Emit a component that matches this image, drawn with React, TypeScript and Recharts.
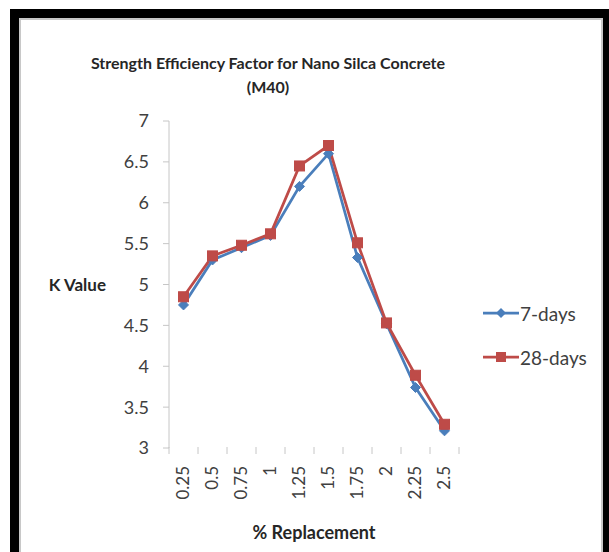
import { LineChart, Line, XAxis, YAxis } from 'recharts';

const categories = ['0.25', '0.5', '0.75', '1', '1.25', '1.5', '1.75', '2', '2.25', '2.5'];
const days7 = [4.75, 5.3, 5.45, 5.6, 6.2, 6.6, 5.33, 4.52, 3.74, 3.21];
const days28 = [4.85, 5.35, 5.48, 5.62, 6.45, 6.7, 5.51, 4.53, 3.89, 3.29];
const yTicks = [3, 3.5, 4, 4.5, 5, 5.5, 6, 6.5, 7];

const data = categories.map((c, i) => ({ name: c, d7: days7[i], d28: days28[i] }));

const BLUE = '#4a7ebb';
const RED = '#be4b48';
const FONT = 'Lato, "Open Sans", sans-serif';
const TEXT = '#404040';

const W = 580;
const H = 532;
const MARGIN = { top: 101, right: 142, bottom: 44, left: 88 };
const PLOT_BOTTOM = H - MARGIN.bottom - 60;
const BAND = (W - MARGIN.left - MARGIN.right - 60) / categories.length;

const Diamond = ({ cx, cy }: any) => {
  if (cx == null || cy == null) return null;
  const r = 5;
  return <path d={`M${cx},${cy - r}L${cx + r},${cy}L${cx},${cy + r}L${cx - r},${cy}Z`} fill={BLUE} stroke={BLUE} />;
};

const Square = ({ cx, cy }: any) => {
  if (cx == null || cy == null) return null;
  const s = 5;
  return <rect x={cx - s} y={cy - s} width={s * 2} height={s * 2} fill={RED} stroke={RED} />;
};

const XTick = ({ x, payload, index }: any) => {
  const ty = PLOT_BOTTOM + 18;
  return (
    <g>
      <line x1={x - BAND / 2} x2={x - BAND / 2} y1={PLOT_BOTTOM - 1} y2={PLOT_BOTTOM + 6} stroke="#c6c6c6" />
      {index === categories.length - 1 && (
        <line x1={x + BAND / 2} x2={x + BAND / 2} y1={PLOT_BOTTOM - 1} y2={PLOT_BOTTOM + 6} stroke="#c6c6c6" />
      )}
      <text
        x={x}
        y={ty}
        transform={`rotate(-90, ${x}, ${ty})`}
        textAnchor="end"
        dy="0.35em"
        fontSize={17}
        fontFamily={FONT}
        fill={TEXT}
      >
        {payload.value}
      </text>
    </g>
  );
};

const legendItems = [
  { label: '7-days', color: BLUE, shape: 'diamond' },
  { label: '28-days', color: RED, shape: 'square' },
];

const ChartLegend = () => (
  <div style={{ position: 'absolute', left: 462, top: 271, fontFamily: FONT, fontSize: 19, color: TEXT }}>
    {legendItems.map((it) => (
      <div key={it.label} style={{ display: 'flex', alignItems: 'center', height: 44 }}>
        <svg width={36} height={14} style={{ marginRight: 1 }}>
          <line x1={0} x2={36} y1={7} y2={7} stroke={it.color} strokeWidth={2.75} />
          {it.shape === 'diamond' ? (
            <path d="M18,2L23,7L18,12L13,7Z" fill={it.color} />
          ) : (
            <rect x={13} y={2} width={10} height={10} fill={it.color} />
          )}
        </svg>
        <span>{it.label}</span>
      </div>
    ))}
  </div>
);

export default function App() {
  return (
    <div
      style={{
        position: 'absolute',
        left: 10,
        top: 9,
        width: 599,
        height: 543,
        background: '#000',
        boxSizing: 'border-box',
        padding: '9px 6px 0 9px',
      }}
    >
      <div
        style={{
          position: 'relative',
          width: W,
          height: H,
          background: '#fff',
          border: '2px solid #c8c8c8',
          borderBottom: 'none',
        }}
      >
        <div
          style={{
            position: 'absolute',
            left: 0,
            top: 31,
            width: 494,
            textAlign: 'center',
            fontFamily: FONT,
            fontWeight: 700,
            fontSize: 16,
            lineHeight: '24px',
            color: '#262626',
          }}
        >
          Strength Efficiency Factor for Nano Silca Concrete
          <br />
          (M40)
        </div>
        <LineChart width={W} height={H} data={data} margin={MARGIN}>
          <XAxis
            dataKey="name"
            scale="band"
            axisLine={false}
            tickLine={false}
            height={60}
            interval={0}
            tick={<XTick />}
            label={{
              value: '% Replacement',
              position: 'bottom',
              offset: 18,
              fontFamily: FONT,
              fontWeight: 700,
              fontSize: 18,
              fill: '#262626',
            }}
          />
          <YAxis
            width={60}
            domain={[3, 7]}
            ticks={yTicks}
            interval={0}
            axisLine={{ stroke: '#c6c6c6' }}
            tickLine={{ stroke: '#c6c6c6' }}
            tickSize={6}
            tickMargin={14}
            tick={{ fontFamily: FONT, fontSize: 18, fill: TEXT }}
            label={{
              value: 'K Value',
              position: 'left',
              offset: 3,
              fontFamily: FONT,
              fontWeight: 700,
              fontSize: 17,
              fill: '#262626',
            }}
          />
          <Line
            dataKey="d7"
            name="7-days"
            stroke={BLUE}
            strokeWidth={2.75}
            dot={<Diamond />}
            isAnimationActive={false}
          />
          <Line
            dataKey="d28"
            name="28-days"
            stroke={RED}
            strokeWidth={2.75}
            dot={<Square />}
            isAnimationActive={false}
          />
        </LineChart>
        <ChartLegend />
      </div>
    </div>
  );
}
